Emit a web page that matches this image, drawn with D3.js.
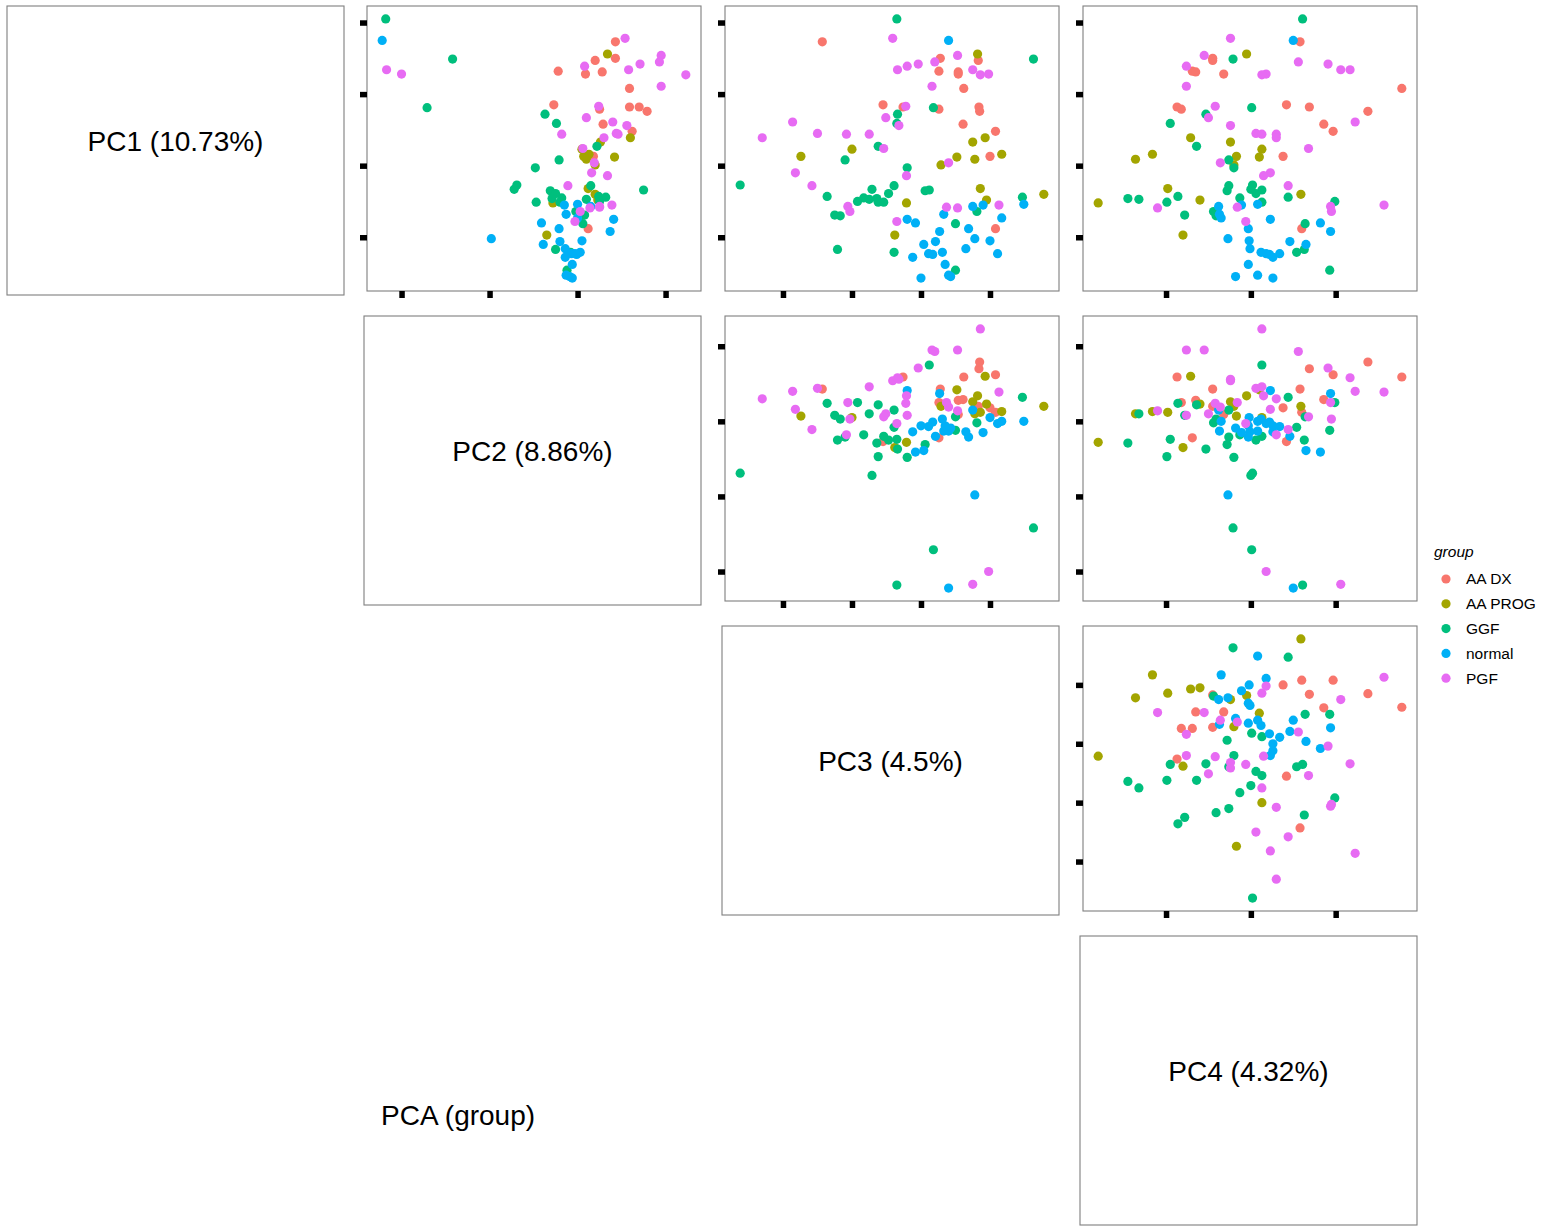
<!DOCTYPE html>
<html>
<head>
<meta charset="utf-8">
<script src="https://cdn.jsdelivr.net/npm/d3@7"></script>
<style>
body { margin: 0; background: #fff; }
text { font-family: "Liberation Sans", Arial, sans-serif; }
</style>
</head>
<body>
<svg width="1542" height="1232"></svg>
<script>
// PCA pairs plot, coloured by group
var groups = ["AA DX", "AA PROG", "GGF", "normal", "PGF"];
var colours = ["#F8766D", "#A3A500", "#00BF7D", "#00B0F6", "#E76BF3"];
var pcLabels = ["PC1 (10.73%)", "PC2 (8.86%)", "PC3 (4.5%)", "PC4 (4.32%)"];
var pcTicks = [[-10, 0, 10, 20], [-20, -10, 0, 10], [-20, -10, 0, 10], [-10, 0, 10]];

// each sample: [PC1, PC2, PC3, PC4]
var aaDx = [
  [17.3, 4.3, -14.3, 5.8], [15.0, 4.3, 2.8, -4.5], [14.7, 2.0, 8.3, -4.5], [13.2, -2.2, 2.6, -6.9],
  [13.1, 2.8, 5.4, -6.5], [12.8, 0.9, 5.4, -3.2], [10.8, 5.9, 6.2, 17.8], [8.5, -2.7, -5.5, 4.2],
  [8.2, 7.0, 8.4, 6.9], [8.2, 5.9, -2.6, -8.7], [7.9, 2.5, 2.6, -8.2], [7.6, 7.9, 8.5, 13.8],
  [5.8, 2.9, 6.1, 8.6], [4.8, 6.2, 10.8, 9.7], [1.3, 1.8, 10.0, 3.8], [-8.8, 1.2, 10.8, 6.0]
];
var aaProg = [
  [15.6, 3.4, 8.2, -0.5], [3.9, 6.0, 9.3, -7.1], [3.3, 2.6, 7.5, -2.4], [2.3, 0.5, -10.0, 1.3],
  [1.6, 1.3, 11.7, -11.6], [1.3, 0.7, -17.4, -1.7], [1.2, 4.2, 5.2, 1.0], [0.9, 1.0, 7.8, -13.6],
  [0.1, 2.0, 2.9, -2.0], [-3.2, 1.2, 8.6, -9.8], [-4.0, 2.0, 17.8, 5.9], [-4.8, 2.3, 9.5, -6.0],
  [-5.2, -2.8, -2.1, -18.0], [-9.7, -3.5, -3.8, -8.0]
];
var ggf = [
  [20.5, -21.8, -3.5, 6.1], [14.9, -14.2, 16.3, -2.1], [8.1, -17.1, 1.8, 0.1], [7.2, -3.7, -3.4, -5.3],
  [5.9, -2.4, -3.5, -9.5], [2.7, 2.2, -6.2, -6.4], [0.8, -2.1, -11.0, -2.6], [-0.3, -4.8, -2.0, -2.0],
  [-2.8, 1.5, -3.9, -2.6], [-2.7, -6.9, -26.2, 0.2], [-3.3, -7.2, -7.1, 0.0], [-3.4, 7.5, 1.2, 1.3],
  [-3.5, -3.1, 0.6, -2.8], [-3.9, -2.5, -4.7, 0.6], [-4.3, 2.4, -13.6, -8.6], [-4.4, 3.2, 14.7, 4.4],
  [-4.5, -1.8, -8.3, -1.3], [-4.6, -2.9, -6.4, -14.5], [-4.7, 1.0, -7.5, -13.2], [-5.0, 2.5, -9.2, 9.9],
  [-5.1, -4.7, -6.2, -9.9], [-6.4, -0.2, 8.1, -4.4], [-6.9, 0.8, -12.5, -7.8], [-7.0, 0.3, -11.7, -4.1],
  [-8.1, 0.6, 5.0, 6.4], [-11.7, -2.5, -12.1, 6.3], [-12.1, -0.8, -3.9, 5.4], [-14.6, -1.2, 5.0, 9.3],
  [-5.1, -2.0, -5.4, 1.3]
];
var normal = [
  [17.5, -22.2, 4.0, 5.0], [-5.4, 0.0, 14.9, 0.8], [-5.5, -1.5, 9.0, -1.1], [-5.7, 1.5, 7.5, -3.8],
  [-6.8, -1.3, 3.3, -3.7], [-7.3, 0.0, 11.7, -3.5], [-7.5, 4.1, -2.0, 2.3], [-8.0, -4.1, -0.8, 8.2],
  [-8.8, -2.1, 6.9, -0.3], [-9.2, 3.7, 2.7, 9.4], [-10.2, -9.8, 7.8, -2.7], [-10.5, 0.5, 10.0, -0.2],
  [-10.6, -2.0, 2.1, 4.6], [-11.0, -3.9, 0.4, 6.5], [-11.6, -1.4, 6.5, -0.1], [-12.1, 0.3, 3.1, 1.2],
  [-12.3, -0.7, 1.1, 3.4], [-12.3, -0.3, 11.1, 1.8], [-12.4, -0.1, 1.7, 2.2], [-12.8, -1.4, -1.2, 2.6],
  [-13.8, -0.6, 3.5, -0.3], [-15.3, -1.3, 4.0, 0.8], [-15.5, -0.9, 4.3, -1.8], [-15.7, -0.6, 0.0, 2.6]
];
var pgf = [
  [17.8, 5.4, -4.1, -2.4], [15.4, 9.5, 5.3, -5.5], [14.5, 9.3, 2.0, 5.6], [14.2, 7.1, -0.4, 9.1],
  [13.9, 0.8, -2.0, -7.6], [13.4, 5.8, -3.4, 11.7], [13.4, -21.7, 7.5, 10.6], [12.8, -20.0, 9.8, 1.8],
  [12.7, 12.3, 8.6, 1.3], [11.1, 9.5, 1.6, -7.6], [8.3, 2.4, -2.2, -4.2], [6.7, 1.0, -5.1, -5.0],
  [6.1, 4.0, -18.6, 12.3], [5.6, 5.6, -3.2, -2.4], [4.4, -1.8, -10.8, 3.0], [4.5, 4.4, -15.0, 0.6],
  [4.4, 4.6, -7.5, 1.3], [3.9, 3.0, -23.0, 3.0], [2.4, 0.6, -5.4, 6.8], [0.4, 1.9, 4.0, -3.6],
  [-1.0, 1.6, -18.2, 2.3], [-1.4, 3.4, -2.1, 1.5], [-2.8, -1.1, -15.8, 4.4], [-5.5, 3.9, 11.3, 15.7],
  [-5.7, 2.5, -10.6, 9.4], [-5.8, 2.5, 3.7, -1.6], [-5.9, 1.4, 5.3, -11.0], [-6.4, 0.3, -10.3, 9.5],
  [-7.8, -0.3, -3.5, -0.6]
];

var groupData = [aaDx, aaProg, ggf, normal, pgf];
var samples = [];
groupData.forEach(function (rows, gi) {
  rows.forEach(function (r) { samples.push({ group: gi, pc: r }); });
});

var svg = d3.select("svg");
var colour = d3.scaleOrdinal().domain(d3.range(groups.length)).range(colours);

// grid of panels
var colLeft = [7, 364, 722, 1080], colRight = [344, 701, 1059, 1417];
var rowTop = [6, 316, 626, 936], rowBottom = [295, 605, 915, 1225];
var tickLen = 7, bottomGap = 4, leftGap = 3;
var pointR = 4.6;

// ggplot-like 5% expansion of each PC range
var domains = d3.range(4).map(function (k) {
  var ext = d3.extent(samples, function (d) { return d.pc[k]; });
  var pad = (ext[1] - ext[0]) * 0.05;
  return [ext[0] - pad, ext[1] + pad];
});

function styleTicks(a) {
  a.select(".domain").remove();
  a.selectAll(".tick line").attr("stroke", "#000").attr("stroke-width", 5.5);
}

for (var r = 0; r < 4; r++) {
  for (var c = 0; c < 4; c++) {
    if (c < r) continue;
    if (c === r) {
      svg.append("rect")
        .attr("x", colLeft[c]).attr("y", rowTop[r])
        .attr("width", colRight[c] - colLeft[c]).attr("height", rowBottom[r] - rowTop[r])
        .attr("fill", "#fff").attr("stroke", "#7f7f7f").attr("stroke-width", 1.1);
      svg.append("text")
        .attr("x", (colLeft[c] + colRight[c]) / 2)
        .attr("y", (rowTop[r] + rowBottom[r]) / 2 - 10)
        .attr("dy", "0.36em")
        .attr("text-anchor", "middle")
        .style("font-size", "28px")
        .text(pcLabels[r]);
      continue;
    }
    var x0 = colLeft[c] + leftGap, x1 = colRight[c];
    var y0 = rowTop[r], y1 = rowBottom[r] - bottomGap;
    var xs = d3.scaleLinear().domain(domains[c]).range([x0, x1]);
    var ys = d3.scaleLinear().domain(domains[r]).range([y1, y0]);
    var g = svg.append("g");

    g.append("rect").attr("x", x0).attr("y", y0)
      .attr("width", x1 - x0).attr("height", y1 - y0).attr("fill", "#fff");

    g.append("g").selectAll("circle")
      .data(samples)
      .enter()
      .append("circle")
      .attr("cx", (function (cc) { return function (d) { return xs(d.pc[cc]); }; })(c))
      .attr("cy", (function (rr) { return function (d) { return ys(d.pc[rr]); }; })(r))
      .attr("r", pointR)
      .attr("fill", function (d) { return colour(d.group); });

    g.append("rect").attr("x", x0).attr("y", y0)
      .attr("width", x1 - x0).attr("height", y1 - y0)
      .attr("fill", "none").attr("stroke", "#7f7f7f").attr("stroke-width", 1.1);

    g.append("g")
      .attr("transform", "translate(0," + y1 + ")")
      .call(d3.axisBottom(xs).tickValues(pcTicks[c]).tickSize(tickLen).tickFormat(""))
      .call(styleTicks);

    g.append("g")
      .attr("transform", "translate(" + x0 + ",0)")
      .call(d3.axisLeft(ys).tickValues(pcTicks[r]).tickSize(tickLen).tickFormat(""))
      .call(styleTicks);
  }
}

// title in the empty lower-left area
svg.append("text")
  .attr("x", 381).attr("y", 1115).attr("dy", "0.36em")
  .style("font-size", "28px")
  .text("PCA (group)");

// legend
var legend = svg.append("g").attr("transform", "translate(1434,0)");
legend.append("text")
  .attr("x", 0).attr("y", 552).attr("dy", "0.35em")
  .style("font-size", "15.5px").style("font-style", "italic")
  .text("group");
var item = legend.selectAll("g.item")
  .data(groups)
  .enter()
  .append("g")
  .attr("class", "item")
  .attr("transform", function (d, i) { return "translate(0," + (579 + i * 24.8) + ")"; });
item.append("circle").attr("cx", 12).attr("cy", 0).attr("r", pointR)
  .attr("fill", function (d, i) { return colours[i]; });
item.append("text").attr("x", 32).attr("y", 0).attr("dy", "0.35em")
  .style("font-size", "15.5px")
  .text(function (d) { return d; });
</script>
</body>
</html>
